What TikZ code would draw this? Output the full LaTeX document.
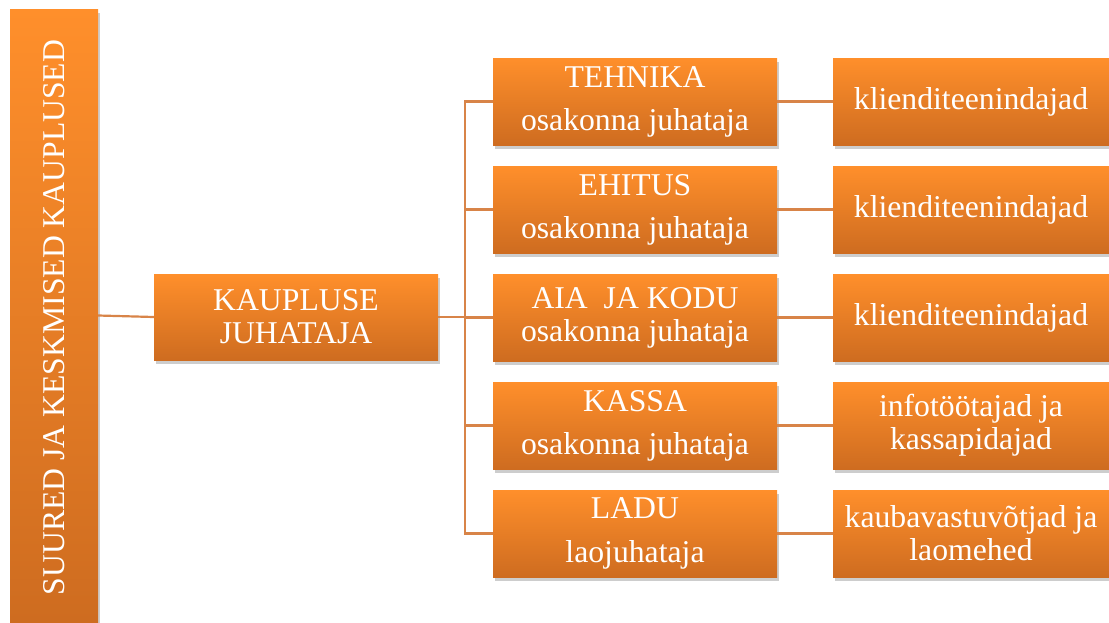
\documentclass[tikz,border=0pt]{standalone}
\usepackage{fontspec}
\setmainfont{Liberation Serif}
\usetikzlibrary{shadows}
\definecolor{otop}{RGB}{255,143,43}
\definecolor{obot}{RGB}{206,108,32}
\definecolor{conn}{RGB}{216,132,72}
\begin{document}
\begin{tikzpicture}[x=1pt,y=-1pt,
  box/.style={draw=none, top color=otop, bottom color=obot, text=white,
    font=\fontsize{31.7}{33}\selectfont, align=center, inner sep=0pt,
    drop shadow={shadow xshift=2pt,shadow yshift=-4pt,opacity=0.28,fill=black!70}},
  midbox/.style={box, minimum width=284pt, minimum height=87pt},
  rightbox/.style={box, minimum width=276pt, minimum height=87pt},
  link/.style={draw=conn, line width=2.2pt}]
\useasboundingbox (0,0) rectangle (1109,622);
% boxes
\node[box, minimum width=88pt, minimum height=613pt] (side) at (54,315.5) {};
\node[text=white, font=\fontsize{31.7}{33}\selectfont, rotate=90] (sidetext) at (54,317.5) {SUURED JA KESKMISED KAUPLUSED};
\node[box, minimum width=284pt, minimum height=86pt] (kj) at (296,317) {KAUPLUSE\\JUHATAJA};
\node[midbox] (m1) at (635,101.5) {TEHNIKA\\[10pt]osakonna juhataja};
\node[midbox] (m2) at (635,209.5) {EHITUS\\[10pt]osakonna juhataja};
\node[midbox] (m3) at (635,317.5) {AIA\ \ JA KODU\\osakonna juhataja};
\node[midbox] (m4) at (635,425.5) {KASSA\\[10pt]osakonna juhataja};
\node[midbox] (m5) at (635,533.5) {LADU\\[11pt]laojuhataja};
\node[rightbox] (r1) at (971,101.5) {klienditeenindajad};
\node[rightbox] (r2) at (971,209.5) {klienditeenindajad};
\node[rightbox] (r3) at (971,317.5) {klienditeenindajad};
\node[rightbox] (r4) at (971,425.5) {infotöötajad ja\\kassapidajad};
\node[rightbox] (r5) at (971,533.5) {kaubavastuvõtjad ja\\laomehed};
% connectors
\coordinate (bus) at (465,317);
\draw[link] (side.east) -- (kj.west);
\draw[link] (kj.east) -- (bus);
\foreach \i in {1,...,5} {
  \draw[link] (bus) |- (m\i.west);
  \draw[link] (m\i.east) -- (r\i.west);
}
\end{tikzpicture}
\end{document}
